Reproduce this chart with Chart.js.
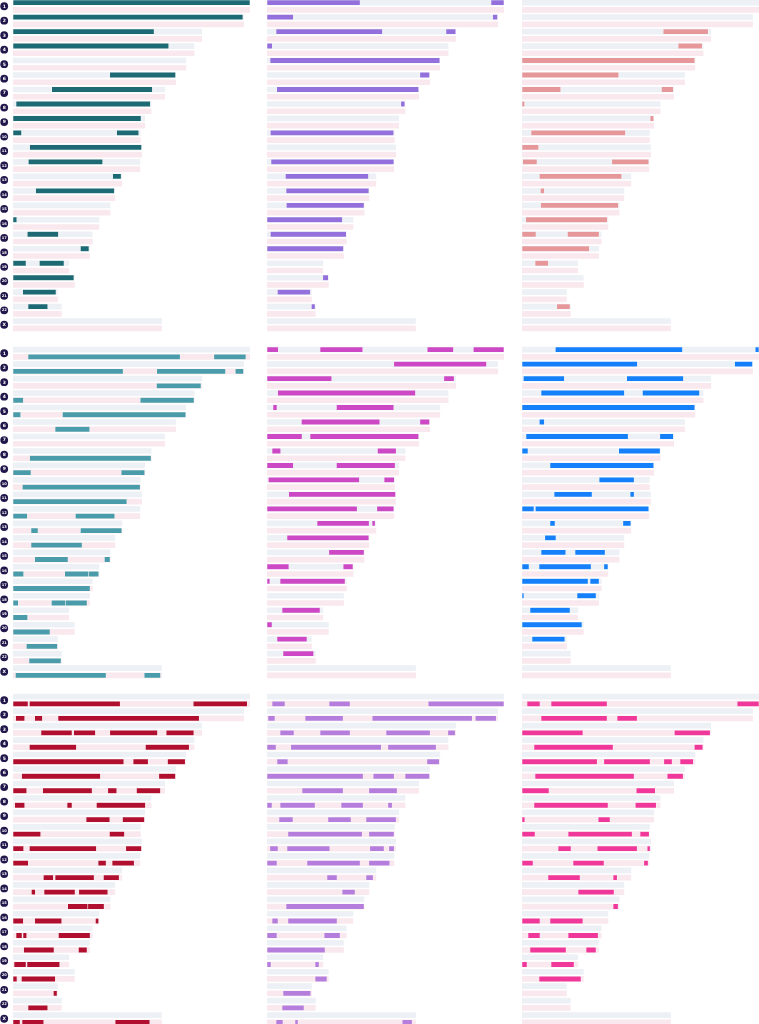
<!DOCTYPE html>
<html><head><meta charset="utf-8">
<script src="https://cdn.jsdelivr.net/npm/chart.js@4.4.1/dist/chart.umd.min.js"></script>
<style>
html,body{margin:0;padding:0;background:#fff;}
body{width:759px;height:1024px;overflow:hidden;position:relative;}
canvas{position:absolute;}
</style></head><body>
<script>
// Chromosome labels and lengths (Mb)
const chromLabels = ["1","2","3","4","5","6","7","8","9","10","11","12","13","14","15","16","17","18","19","20","21","22","X"];
const chromLengths = [248.96,242.19,198.30,190.21,181.54,170.81,159.35,145.14,138.39,133.80,135.09,133.28,114.36,107.04,101.99,90.34,83.26,80.37,58.62,64.44,46.71,50.82,156.04];

// Segments: [chromosome, start Mb, end Mb]
const tealSegments = [["1",0,248.96],["2",0,241.5],["3",0,148.2],["4",0,163.6],["6",101.6,170.81],["7",40.7,146.4],["8",3.2,144.3],["9",0,134.5],["10",0,9],["10",108.9,132.1],["11",17.5,135.09],["12",16.1,94.2],["13",104.7,113.6],["14",23.8,106.5],["16",0,4],["17",15,47.7],["18",70.8,79.8],["19",0,13.7],["19",27.7,53.6],["20",0,64],["21",10.2,45.2],["22",15.8,36.5]];
const purpleSegments = [["1",0,97.8],["1",235.3,248.96],["2",0,27.7],["2",237,242.19],["3",9.5,121.3],["3",188,198.3],["4",0,5.6],["5",3.2,181.54],["6",160.6,170.81],["7",10.2,159.35],["8",140.6,144.8],["10",3.5,133.1],["12",4.2,133.28],["13",19.3,106.6],["14",20,107.04],["15",20.3,101.99],["16",0,79.2],["17",3.5,83.26],["18",0,80.37],["20",58.6,64.44],["21",10.9,45.6],["22",46.6,50.5]];
const salmonSegments = [["3",148.3,195.6],["4",164,189.3],["5",0,181.54],["6",0,101.6],["7",0,40.7],["7",146.5,159],["8",0,2.8],["9",134.6,138.39],["10",9.5,108.7],["11",0,17.5],["12",0.7,15.8],["12",94.3,133.2],["13",18.2,104.8],["14",19.3,23.5],["15",19.6,101.3],["16",3.9,89.7],["17",0,14.7],["17",47.7,81],["18",0,70.8],["19",13.7,27.7],["22",36.5,50.5]];
const cyanSegments = [["1",15.8,175.6],["1",211,244.7],["2",0,115.7],["2",151,223.3],["2",233.5,242.19],["3",150.7,197.5],["4",0,10.9],["4",133.6,190.21],["5",0,8.1],["5",51.9,181.54],["6",44.2,80.6],["8",17.5,145.1],["9",0,18.9],["9",113.6,138.39],["10",9.8,133.6],["11",0,119.6],["12",0,15.1],["12",65.5,106.9],["13",18.9,26.3],["13",70.8,114.36],["14",18.9,72.6],["15",22.8,57.8],["15",96,101.99],["16",0,11.2],["16",54.3,79.6],["16",79.6,90.1],["17",0,81],["18",0,5.6],["18",40.3,55],["18",55,77.8],["19",0,15.4],["20",0,38.9],["21",14,46.71],["22",16.8,50.5],["X",2.5,97.8],["X",137.8,155]];
const magentaSegments = [["1",0,11.9],["1",55.7,100.6],["1",168.3,195.9],["1",216.7,248.96],["2",133.2,230.6],["3",0,68],["3",185.8,196.6],["4",11.2,156],["5",6.3,10.5],["5",72.9,133.2],["6",36.1,118.5],["6",160.6,170.81],["7",0,36.8],["7",45.2,159.35],["8",5.3,14.4],["8",116,135.7],["9",0,27.7],["9",72.9,134.6],["10",1.4,97.1],["10",123,133.8],["11",22.8,135.09],["12",0,94.7],["12",115.4,133.28],["13",52.6,107.3],["13",110.4,113.6],["14",21,107.04],["15",65,101.99],["16",0,23],["16",80,90.34],["17",0,3],["17",13.7,82],["19",15.8,55.7],["20",0,5.3],["21",10.5,42],["22",16.8,49]];
const blueSegments = [["1",35,168.6],["1",245,248.96],["2",0,121.2],["2",223.3,242.19],["3",1.4,44.5],["3",110,169.6],["4",20,107.6],["4",126.5,186.5],["5",0,181.54],["6",18.2,23.5],["7",4.2,111.5],["7",144.8,159],["8",0,6.3],["8",101.6,145.1],["9",29.4,138.39],["10",81,117.8],["11",33.7,73.6],["11",113.6,117.8],["12",0,12.6],["12",14,133.2],["13",29.4,34.7],["13",106,114.36],["14",24,35.7],["15",20,46],["15",55.7,87.3],["16",0,7.4],["16",17.9,72.6],["16",86,90.34],["17",0,69.4],["17",71.5,81],["18",0,2],["18",57.8,77.8],["19",8.4,50.5],["20",0,63],["21",10.5,45]];
const crimsonSegments = [["1",0,15.8],["1",17.2,112.6],["1",189.3,246.1],["2",2.8,12.3],["2",22.8,30.9],["2",47.3,195.6],["3",29.4,62],["3",63.8,86.6],["3",101.7,151.8],["3",160.9,190],["4",17.2,66.6],["4",139.1,185.1],["5",0,116.4],["5",126.2,142],["5",162.3,180.9],["6",9.1,91.8],["6",153.2,170.7],["7",0,14.4],["7",31.2,83.1],["7",99.6,109],["7",129.7,154.9],["8",1.8,12.3],["8",56.8,62],["8",87.6,139.1],["9",76.8,101.7],["9",115,138.1],["10",0,29.1],["10",101.3,117.1],["11",0,11.2],["11",17.2,87.6],["11",118.5,135],["12",0,16.1],["12",89.4,97.8],["12",104.1,127.3],["13",31.9,42.4],["13",44.2,85.2],["13",95,111.5],["14",19.3,23.5],["14",32.6,65.2],["14",69.1,99.6],["15",57.5,78.6],["15",78.6,95.7],["16",0,10.9],["16",22.8,51.2],["16",86.6,90],["17",3.2,9.5],["17",10.5,14.4],["17",47.7,81],["18",11.2,43.1],["18",68.7,77.8],["19",1.1,13.7],["19",14.7,49.1],["20",0,4.2],["20",8.8,44.5],["21",42.4,46.3],["22",15.8,36.5],["X",0,7.4],["X",9.5,32.3],["X",107.3,143.7]];
const lavenderSegments = [["1",5.3,18.9],["1",65.2,87.3],["1",169.3,248.96],["2",1,8.4],["2",40,80],["2",110.5,215.6],["2",218.8,240.8],["3",13.7,28.4],["3",55.7,87.3],["3",125,171.4],["3",190,197.7],["4",0,9.5],["4",25,120],["4",127,177.7],["5",10.5,22],["5",168,181],["6",0,101],["6",111.5,133.6],["6",145,170.81],["7",36.8,80],["7",107,136.7],["8",0,5.3],["8",13.7,50.5],["8",77.8,101],["8",127,131.5],["9",12.6,27.3],["9",64,88.3],["9",104,135.7],["10",22,100],["10",107,133.5],["11",3,11.6],["11",21,66],["11",108,123],["11",128,133.6],["12",0,10.5],["12",42,97.8],["12",107,129],["13",63,73.6],["13",104,111.5],["14",78.9,92.5],["15",20,101.99],["16",5.3,11.6],["16",22,73.6],["17",0,10.5],["17",60,76.8],["18",0,61],["19",0,4.2],["19",50.5,54.7],["20",50.5,63],["21",16.8,46],["22",15.8,38.9],["X",9.5,16.8],["X",29.4,32.6],["X",142,152.5]];
const pinkSegments = [["1",5.3,18.9],["1",30.5,89.4],["1",226,248.96],["2",20,89.4],["2",99.9,121],["3",0,64],["3",160,197.7],["4",12.6,95.7],["4",181,190],["5",0,79],["5",86,134.6],["5",149,157.7],["5",166,180],["6",13.7,117.8],["6",152.5,169.3],["7",0,28.4],["7",120,140],["8",12.6,90.4],["8",119,141],["9",0,3],["9",80,92.5],["10",0,13.7],["10",48.4,115.7],["10",124,133.6],["11",37.9,51.5],["11",79,121],["11",131.5,134.6],["12",0,11.6],["12",53.6,86.2],["12",128,132.5],["13",27.3,61],["13",95.7,100],["14",58.9,96.7],["15",95.7,101],["16",0,18.9],["16",29.4,64],["17",6.3,18.9],["17",48.4,80],["18",8.4,46.3],["18",67.3,77.8],["19",0,5.3],["19",30.5,54.7],["20",17.9,62]];

const panels = [
  {seg: tealSegments,     color: "#1e6a74", track: "a", col: 0, row: 0},
  {seg: purpleSegments,   color: "#9370db", track: "a", col: 1, row: 0},
  {seg: salmonSegments,   color: "#e6979a", track: "a", col: 2, row: 0},
  {seg: cyanSegments,     color: "#4b9caa", track: "b", col: 0, row: 1},
  {seg: magentaSegments,  color: "#cc48c4", track: "a", col: 1, row: 1},
  {seg: blueSegments,     color: "#1580fa", track: "a", col: 2, row: 1},
  {seg: crimsonSegments,  color: "#b00f2f", track: "b", col: 0, row: 2},
  {seg: lavenderSegments, color: "#b57edc", track: "b", col: 1, row: 2},
  {seg: pinkSegments,     color: "#f0389b", track: "b", col: 2, row: 2}
];

const trackLabels = [];
chromLabels.forEach(c => { trackLabels.push(c + "a"); trackLabels.push(c + "b"); });

const colX = [13, 267, 522];
const rowY = [-1, 346, 693];
const plotW = 237, plotH = 333;

const circlePlugin = {
  id: "chromCircles",
  afterDraw(chart) {
    const ys = chart.scales.y;
    const ctx = chart.ctx;
    ctx.save();
    chromLabels.forEach((c, i) => {
      const y = (ys.getPixelForValue(2 * i) + ys.getPixelForValue(2 * i + 1)) / 2;
      ctx.beginPath();
      ctx.arc(4.2, y, 3.9, 0, Math.PI * 2);
      ctx.fillStyle = "#21174a";
      ctx.fill();
      ctx.fillStyle = "#ffffff";
      ctx.font = "bold " + (c.length > 1 ? 3.6 : 4.5) + "px 'DejaVu Sans', sans-serif";
      ctx.textAlign = "center";
      ctx.textBaseline = "middle";
      ctx.fillText(c, 4.2, y + 0.2);
    });
    ctx.restore();
  }
};

panels.forEach(p => {
  const cv = document.createElement("canvas");
  const first = p.col === 0;
  const left = first ? 0 : colX[p.col];
  const w = first ? colX[0] + plotW : plotW;
  cv.width = w; cv.height = plotH;
  cv.style.left = left + "px"; cv.style.top = rowY[p.row] + "px";
  cv.style.width = w + "px"; cv.style.height = plotH + "px";
  document.body.appendChild(cv);

  const bgA = chromLabels.map((c, i) => ({y: c + "a", x: [0, chromLengths[i]]}));
  const bgB = chromLabels.map((c, i) => ({y: c + "b", x: [0, chromLengths[i]]}));
  const segs = p.seg.map(s => ({y: s[0] + p.track, x: [s[1], s[2]]}));

  new Chart(cv, {
    type: "bar",
    data: {
      labels: trackLabels,
      datasets: [
        {data: segs, backgroundColor: p.color, borderColor: "rgba(255,255,255,0.55)", borderWidth: 0.6, borderSkipped: false, barThickness: 5.4, grouped: false, order: 0},
        {data: bgA, backgroundColor: "#edf0f5", borderWidth: 0, barThickness: 5, grouped: false, order: 1},
        {data: bgB, backgroundColor: "#f9e8ed", borderWidth: 0, barThickness: 5, grouped: false, order: 2}
      ]
    },
    options: {
      indexAxis: "y",
      responsive: false,
      animation: false,
      devicePixelRatio: 1,
      layout: {padding: {left: first ? colX[0] : 0, right: 0, top: 0, bottom: 0}},
      plugins: {legend: {display: false}, tooltip: {enabled: false}},
      scales: {
        x: {type: "linear", min: 0, max: chromLengths[0], display: false},
        y: {type: "category", display: false, offset: true}
      }
    },
    plugins: first ? [circlePlugin] : []
  });
});
</script>
</body></html>
